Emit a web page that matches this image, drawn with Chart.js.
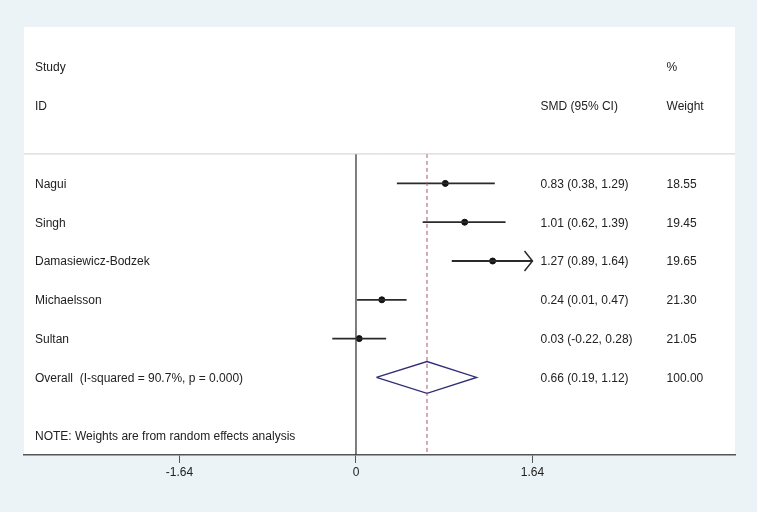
<!DOCTYPE html>
<html>
<head>
<meta charset="utf-8">
<script src="https://cdn.jsdelivr.net/npm/chart.js@4/dist/chart.umd.min.js"></script>
<style>
  html, body { margin: 0; padding: 0; background: #ebf3f6; }
  #wrap { width: 757px; height: 512px; }
</style>
</head>
<body>
<div id="wrap"><canvas id="forest" width="757" height="512"></canvas></div>
<script>
// study rows
var studies = ['Nagui', 'Singh', 'Damasiewicz-Bodzek', 'Michaelsson', 'Sultan'];
var smd = [0.83, 1.01, 1.27, 0.24, 0.03];
var ciLow = [0.38, 0.62, 0.89, 0.01, -0.22];
var ciHigh = [1.29, 1.39, 1.64, 0.47, 0.28];
var ciText = ['0.83 (0.38, 1.29)', '1.01 (0.62, 1.39)', '1.27 (0.89, 1.64)', '0.24 (0.01, 0.47)', '0.03 (-0.22, 0.28)'];
var weights = ['18.55', '19.45', '19.65', '21.30', '21.05'];

// pooled estimate
var overallLabel = 'Overall  (I-squared = 90.7%, p = 0.000)';
var overallSmd = 0.66;
var overallLow = 0.19;
var overallHigh = 1.12;
var overallText = '0.66 (0.19, 1.12)';
var overallWeight = '100.00';

var tickValues = [-1.64, 0, 1.64];
var tickLabels = ['-1.64', '0', '1.64'];
var axisClip = 1.64; // CI arrow drawn where it meets the axis limit

// row layout (y units = rows)
var firstRow = 3;
var overallRow = firstRow + studies.length;
var noteRow = overallRow + 1.5;
var headerTop = 2.24;

var X_MIN = -3.085, X_MAX = 3.522;
var COL_LABEL = -2.983, COL_CI = 1.715, COL_W = 2.886;

var FONT = '12px "Liberation Sans", Arial, Helvetica, sans-serif';
var TEXT = '#222';

var datasets = [];

// header rule and reference lines
datasets.push({ data: [{ x: X_MIN, y: headerTop }, { x: X_MAX, y: headerTop }], borderColor: '#cfcfcf', borderWidth: 1 });
datasets.push({ data: [{ x: 0, y: headerTop }, { x: 0, y: 10 }], borderColor: '#3a3a3a', borderWidth: 1.3 });
datasets.push({ data: [{ x: overallSmd, y: headerTop }, { x: overallSmd, y: 10 }], borderColor: '#a9566a', borderWidth: 1, borderDash: [4, 3] });

// CI lines
studies.forEach(function (s, i) {
  datasets.push({
    data: [{ x: ciLow[i], y: firstRow + i }, { x: ciHigh[i], y: firstRow + i }],
    borderColor: '#2a2a2a', borderWidth: 1.8
  });
});

// point estimates
datasets.push({
  data: smd.map(function (v, i) { return { x: v, y: firstRow + i }; }),
  showLine: false, pointRadius: 3, pointBackgroundColor: '#111', pointBorderColor: '#111'
});

// diamond
datasets.push({
  data: [
    { x: overallLow, y: overallRow }, { x: overallSmd, y: overallRow - 0.41 },
    { x: overallHigh, y: overallRow }, { x: overallSmd, y: overallRow + 0.41 },
    { x: overallLow, y: overallRow }
  ],
  borderColor: '#2f2f78', borderWidth: 1.4, fill: false
});

var panelPlugin = {
  id: 'panel',
  beforeDraw: function (chart) {
    var ctx = chart.ctx, a = chart.chartArea;
    ctx.save();
    ctx.fillStyle = '#ebf3f6';
    ctx.fillRect(0, 0, chart.width, chart.height);
    ctx.fillStyle = '#ffffff';
    ctx.fillRect(a.left, a.top, a.right - a.left, a.bottom - a.top);
    ctx.restore();
  }
};

var textPlugin = {
  id: 'forestText',
  afterDatasetsDraw: function (chart) {
    var ctx = chart.ctx, xs = chart.scales.x, ys = chart.scales.y;
    ctx.save();
    ctx.font = FONT;
    ctx.fillStyle = TEXT;
    ctx.textBaseline = 'middle';
    ctx.textAlign = 'left';
    function put(t, x, row) { ctx.fillText(t, xs.getPixelForValue(x), ys.getPixelForValue(row) + 1); }

    put('Study', COL_LABEL, 0);
    put('ID', COL_LABEL, 1);
    put('%', COL_W, 0);
    put('SMD (95% CI)', COL_CI, 1);
    put('Weight', COL_W, 1);

    studies.forEach(function (s, i) {
      put(s, COL_LABEL, firstRow + i);
      put(ciText[i], COL_CI, firstRow + i);
      put(weights[i], COL_W, firstRow + i);
    });
    put(overallLabel, COL_LABEL, overallRow);
    put(overallText, COL_CI, overallRow);
    put(overallWeight, COL_W, overallRow);
    put('NOTE: Weights are from random effects analysis', COL_LABEL, noteRow);

    // arrow heads for CIs reaching the clip limit
    ctx.strokeStyle = '#2a2a2a';
    ctx.lineWidth = 1.5;
    ciHigh.forEach(function (h, i) {
      if (h < axisClip) return;
      var px = xs.getPixelForValue(axisClip), py = ys.getPixelForValue(firstRow + i);
      ctx.beginPath();
      ctx.moveTo(px - 8, py - 10);
      ctx.lineTo(px, py);
      ctx.lineTo(px - 8, py + 10);
      ctx.stroke();
    });
    ctx.restore();
  }
};

new Chart(document.getElementById('forest'), {
  type: 'scatter',
  data: { datasets: datasets.map(function (d) {
    return Object.assign({ showLine: true, pointRadius: 0, fill: false, tension: 0 }, d);
  }) },
  options: {
    responsive: false,
    animation: false,
    layout: { padding: { left: 24, right: 22, top: 27, bottom: 0 } },
    plugins: { legend: { display: false }, tooltip: { enabled: false } },
    scales: {
      x: {
        type: 'linear', min: X_MIN, max: X_MAX,
        afterBuildTicks: function (s) { s.ticks = tickValues.map(function (v) { return { value: v }; }); },
        afterFit: function (s) { s.height = 57; },
        ticks: {
          padding: 2, color: TEXT,
          font: { family: '"Liberation Sans", Arial, sans-serif', size: 12 },
          callback: function (v) { var k = tickValues.indexOf(v); return k >= 0 ? tickLabels[k] : ''; }
        },
        grid: { drawOnChartArea: false, drawTicks: true, tickLength: 8, color: '#555', lineWidth: 1 },
        border: { display: true, color: '#555', width: 1.5 }
      },
      y: {
        type: 'linear', reverse: true, min: -1.031, max: 10, display: false
      }
    }
  },
  plugins: [panelPlugin, textPlugin]
});
</script>
</body>
</html>
